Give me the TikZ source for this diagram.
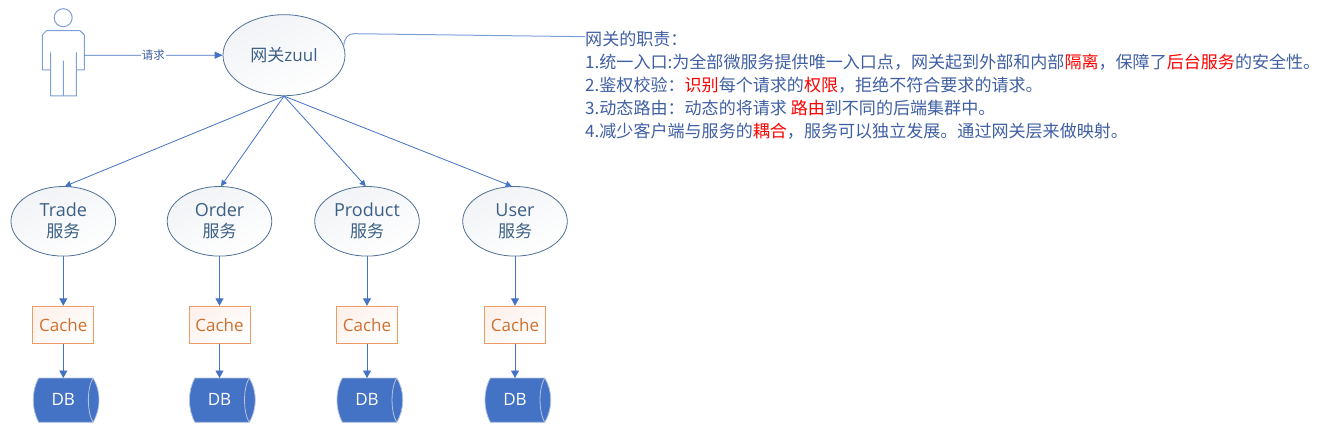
\documentclass[tikz,border=0pt]{standalone}
\usepackage{fontspec}
\setmainfont{Noto Sans CJK SC}
\newfontfamily\lat{Open Sans}
\usetikzlibrary{arrows.meta,shapes.geometric}
\definecolor{lineblue}{HTML}{4472C4}
\definecolor{palelineblue}{HTML}{7F9FD8}
\definecolor{ellborder}{HTML}{4F7196}
\definecolor{textblue}{HTML}{3C5F85}
\definecolor{noteblue}{HTML}{3F5FA3}
\definecolor{cacheline}{HTML}{ED9B66}
\definecolor{cachetext}{HTML}{D0702F}
\definecolor{dbblue}{HTML}{4472C4}
\definecolor{dbedge}{HTML}{B4C4E0}
\definecolor{ellshade}{HTML}{F1F3F6}
\definecolor{cacheshade}{HTML}{FDF1EC}
\newcommand{\hl}[1]{\textcolor{red}{#1}}
\newcommand{\latbig}[1]{{\fontsize{18}{21}\selectfont\lat #1}}
\tikzset{
  x=1pt,y=-1pt,
  ell/.style={ellipse,draw=ellborder,line width=0.8pt,inner sep=0pt,
    top color=ellshade,bottom color=white,shading angle=25,
    text=textblue,align=center,font=\fontsize{17}{21}\selectfont},
  svc/.style={ell,minimum width=104.6pt,minimum height=69.6pt},
  gate/.style={ell,minimum width=122pt,minimum height=81pt},
  cachebox/.style={rectangle,draw=cacheline,line width=1pt,top color=cacheshade,bottom color=white,
    shading angle=35,text=cachetext,minimum width=61pt,minimum height=37pt,inner sep=0pt,
    font=\fontsize{17}{18}\selectfont\lat},
  conn/.style={draw=lineblue,line width=0.9pt,-{Triangle[length=7.5pt,width=8pt]}},
  fan/.style={draw=lineblue,line width=0.8pt,-{Triangle[length=6pt,width=6pt]}},
  dbtext/.style={text=white,font=\fontsize{17}{18}\selectfont\lat,inner sep=0pt},
  note/.style={anchor=north west,inner sep=0pt,align=left,text=noteblue,
    font=\fontsize{17.05}{23}\selectfont},
  person/.style={draw=palelineblue,line width=1pt,line join=round},
}
\begin{document}
\begin{tikzpicture}
\useasboundingbox (0,0) rectangle (1322,438);
% person
\node[circle,person,minimum size=18pt,inner sep=0pt] (head) at (63.2,17.7) {};
\draw[person] (50.7,70) -- (42.3,70) -- (42.3,35) -- (46.5,30.7) -- (80,30.7) -- (84.3,35) -- (84.3,70) -- (76.3,70)
  (76.3,52.3) -- (76.3,96) -- (50.7,96) -- (50.7,52.3) (63.3,60.7) -- (63.3,96);
\coordinate (hand) at (84.3,55.3);
% gateway
\node[gate] (gw) at (284,55.2) {网关{\lat zuul}};
\draw[conn,-{Triangle[length=8pt,width=7pt]}] (hand) -- node[fill=white,inner sep=1pt,text=noteblue,font=\fontsize{11.5}{13}\selectfont] (req) {请求} (gw.west);
% services
\foreach \n/\x/\tx/\lab in {t/63.3/65/Trade,o/219.5/221/Order,p/367/365.7/Product,u/515/511.7/User}{
  \node[svc] (s\n) at (\x,221.3) {\latbig{\lab}\\服务};
  \node[cachebox] (c\n) at (\x,324.8) {Cache};
  \coordinate (e\n) at (\tx,186.2);
  \draw[fan] (gw.south) -- (e\n);
  \draw[conn] (s\n.south) -- (c\n.north);
  \coordinate (d\n) at (\x,378);
  \fill[dbblue,draw=dbedge,line width=0.8pt] (\x-24.6,378) -- (\x+29.7,378)
     .. controls (\x+34,385) and (\x+35.7,392) .. (\x+35.7,400)
     .. controls (\x+35.7,408) and (\x+34,415) .. (\x+29.7,422.3)
     -- (\x-24.6,422.3) .. controls (\x-28.5,415) and (\x-30,408) .. (\x-30,400)
     .. controls (\x-30,392) and (\x-28.5,385) .. (\x-24.6,378) -- cycle;
  \draw[dbedge,line width=0.8pt] (\x+29.7,378) .. controls (\x+23.5,388) and (\x+23.5,412) .. (\x+29.7,422.3);
  \node[dbtext] (b\n) at (\x,399.5) {DB};
  \draw[conn] (c\n.south) -- (d\n);
}
% note
\node[note] (nt) at (585,30.5) {网关的职责：\\
1.统一入口:为全部微服务提供唯一入口点，网关起到外部和内部\hl{隔离}，保障了\hl{后台服务}的安全性。\\
2.鉴权校验：\hl{识别}每个请求的\hl{权限}，拒绝不符合要求的请求。\\
3.动态路由：动态的将请求 \hl{路由}到不同的后端集群中。\\
4.减少客户端与服务的\hl{耦合}，服务可以独立发展。通过网关层来做映射。};
\coordinate (noteend) at (585,36.7);
\draw[draw=palelineblue,line width=1pt] (gw.9) .. controls (344.5,38) and (348,33.7) .. (354,33.7) -- (noteend);
\end{tikzpicture}
\end{document}
